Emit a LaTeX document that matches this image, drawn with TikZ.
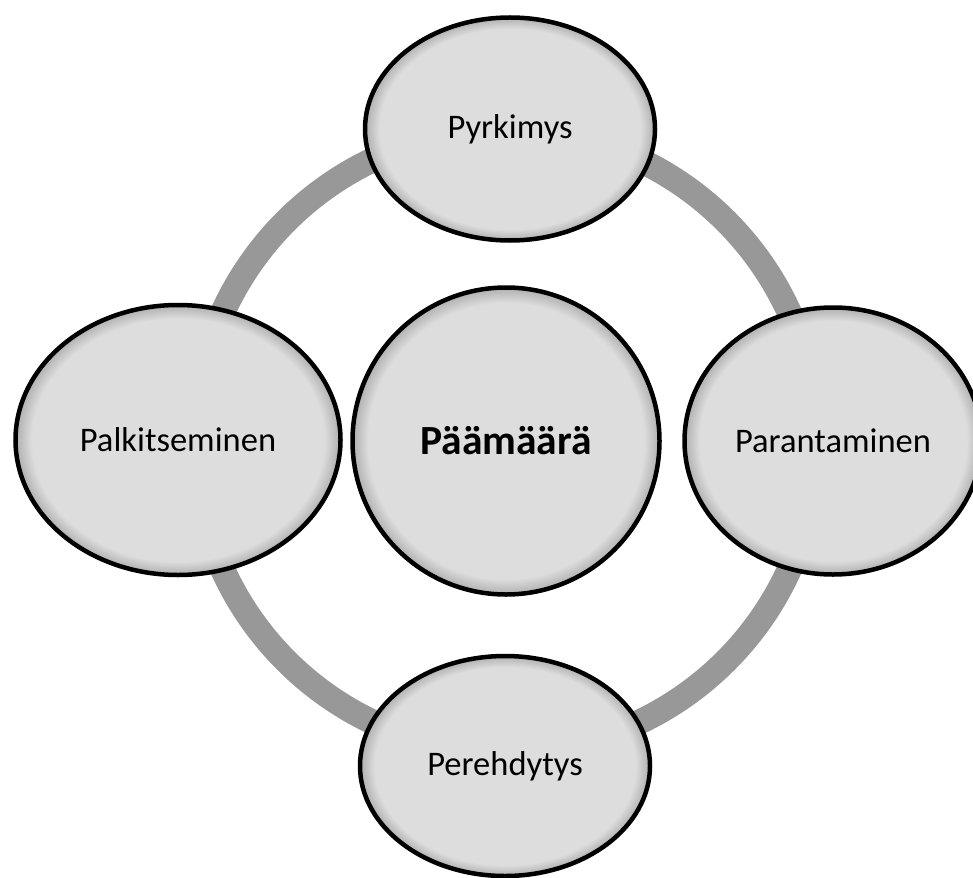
\documentclass[tikz,border=0pt]{standalone}
\usepackage{fontspec}
\setmainfont{Carlito}
\usetikzlibrary{shapes.geometric}
\definecolor{fillgray}{RGB}{221,221,221}
\definecolor{edgegray}{RGB}{175,175,175}
\definecolor{ringgray}{RGB}{152,152,152}
\pgfdeclareradialshading{bubble}{\pgfpointorigin}{color(0bp)=(fillgray); color(22.5bp)=(fillgray); color(25bp)=(edgegray); color(50bp)=(edgegray)}

\begin{document}
\begin{tikzpicture}[x=1pt,y=-1pt,
  bubble/.style={ellipse,draw=black,line width=4.5pt,shade,shading=bubble,inner sep=0pt,font=\fontsize{34.5}{41}\selectfont},
  ring/.style={draw=ringgray,line width=25pt}]
\useasboundingbox (0,0) rectangle (973,877);
\coordinate (c) at (506,441);
\draw[ring] (c) circle (311pt);
\node[bubble,minimum width=307pt,minimum height=307pt,font=\fontsize{41.5}{49}\selectfont\bfseries] (0) at (c) {Päämäärä};
\node[bubble,minimum width=290pt,minimum height=223pt] (1) at (510,129) {Pyrkimys};
\node[bubble,minimum width=297pt,minimum height=267pt] (2) at (833,441) {Parantaminen};
\node[bubble,minimum width=290pt,minimum height=220pt] (3) at (505,766) {Perehdytys};
\node[bubble,minimum width=325pt,minimum height=270pt] (4) at (178,440) {Palkitseminen};
\end{tikzpicture}
\end{document}
